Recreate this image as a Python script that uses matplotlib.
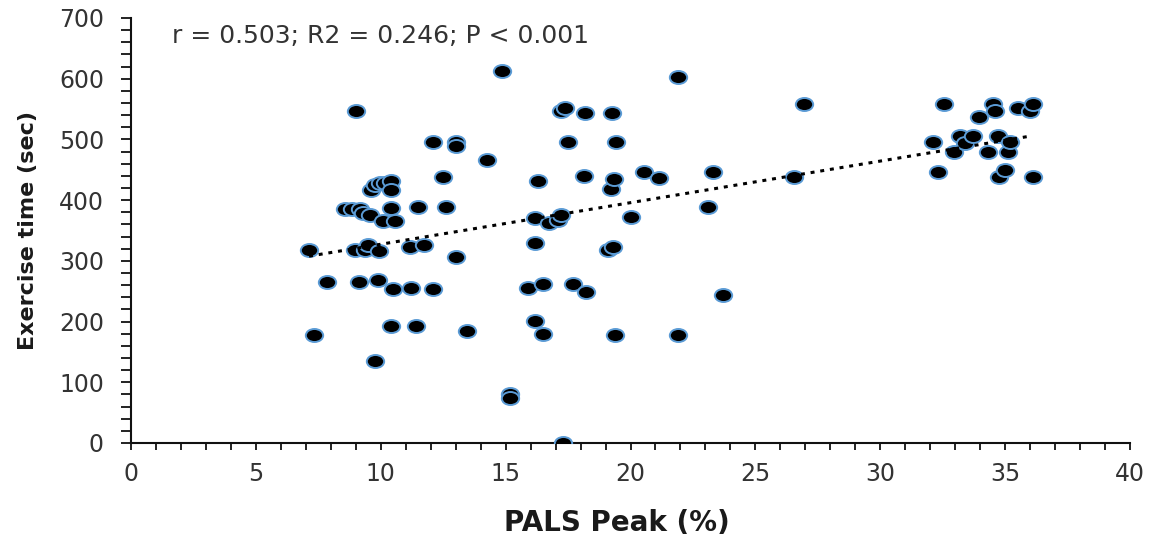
import matplotlib
matplotlib.use('Agg')
import matplotlib.pyplot as plt
from matplotlib.path import Path
from matplotlib.ticker import MultipleLocator
import numpy as np

# Dados (PALS Peak %, tempo de exercício em segundos)
pals_peak = [
    7.13, 7.33, 7.85, 8.56, 8.83, 8.96, 8.99, 9.13, 9.16, 9.29,
    9.36, 9.49, 9.56, 9.63, 9.76, 9.79, 9.90, 9.93, 9.96, 10.10,
    10.16, 10.40, 10.43, 10.43, 10.43, 10.50, 10.56, 11.16, 11.23, 11.40,
    11.50, 11.72, 12.10, 12.10, 12.50, 12.63, 13.00, 13.00, 13.03, 13.45,
    14.25, 14.85, 15.16, 15.16,
    15.90, 16.16, 16.16, 16.16, 16.30, 16.50, 16.50, 16.72, 17.10, 17.20,
    17.20, 17.36, 17.30, 17.50, 17.70, 18.12, 18.16, 18.20, 19.10, 19.30,
    19.23, 19.27, 19.33, 19.36, 19.43, 20.03, 20.56, 21.16, 21.90, 21.90,
    23.10, 23.30, 23.70, 26.56, 26.96,
    32.10, 32.30, 32.56, 32.96, 33.20, 33.40, 33.70, 33.96, 34.30, 34.50,
    34.60, 34.70, 34.76, 35.00, 35.10, 35.20, 35.50, 36.00, 36.10, 36.10,
]
exercise_time = [
    318, 178, 265, 385, 385, 318, 547, 265, 385, 378,
    318, 326, 376, 417, 425, 135, 268, 317, 428, 366,
    429, 193, 432, 416, 387, 253, 366, 322, 256, 193,
    388, 326, 253, 495, 438, 388, 496, 489, 307, 184,
    466, 612, 80, 74,
    255, 370, 330, 201, 432, 262, 180, 362, 367, 376,
    547, 551, 0, 495, 262, 440, 544, 248, 318, 322,
    418, 544, 434, 178, 495, 373, 447, 437, 602, 178,
    389, 447, 244, 438, 558,
    496, 447, 558, 480, 506, 494, 506, 537, 480, 559,
    547, 506, 438, 450, 480, 496, 551, 547, 559, 438,
]

texto_stats = 'r = 0.503; R2 = 0.246; P < 0.001'

# marcador elíptico (a imagem original está esticada na horizontal)
circulo = Path.unit_circle()
elipse = Path(circulo.vertices * np.array([1.0, 0.75]), circulo.codes)


def grafico_dispersao():
    x = np.array(pals_peak)
    y = np.array(exercise_time)

    fig = plt.figure(figsize=(11.57, 5.42), dpi=100)
    ax = fig.add_axes([0.1132, 0.1827, 0.8635, 0.7841])

    ax.plot(x, y, linestyle='none', marker=elipse, markersize=12.5,
            markerfacecolor='black', markeredgecolor='#5b9bd5',
            markeredgewidth=1.4, zorder=3)

    # linha de tendência linear (pontilhada)
    coef = np.polyfit(x, y, 1)
    xt = np.array([x.min(), x.max() - 0.2])
    ax.plot(xt, np.polyval(coef, xt), color='black', linewidth=2.2,
            linestyle=(0, (1.3, 1.9)), dash_capstyle='butt', zorder=4)

    ax.text(0.041, 0.957, texto_stats, transform=ax.transAxes,
            fontsize=18, color='#333333', va='center', ha='left')

    ax.set_xlim(0, 40)
    ax.set_ylim(0, 700)
    ax.xaxis.set_major_locator(MultipleLocator(5))
    ax.xaxis.set_minor_locator(MultipleLocator(1))
    ax.yaxis.set_major_locator(MultipleLocator(100))
    ax.yaxis.set_minor_locator(MultipleLocator(20))

    for lado in ['top', 'right']:
        ax.spines[lado].set_visible(False)
    for lado in ['left', 'bottom']:
        ax.spines[lado].set_linewidth(1.5)
        ax.spines[lado].set_color('#111111')

    ax.tick_params(axis='both', which='both', direction='out',
                   width=1.3, color='#111111', labelsize=17,
                   labelcolor='#333333')
    ax.tick_params(axis='y', which='both', length=7.5, pad=12)
    ax.tick_params(axis='x', which='both', length=5, pad=9)

    ax.set_xlabel('PALS Peak (%)', fontsize=20, fontweight='bold',
                  color='#1a1a1a')
    ax.set_ylabel('Exercise time (sec)', fontsize=16, fontweight='bold',
                  color='#1a1a1a')
    ax.xaxis.set_label_coords(0.4862, -0.156)
    ax.yaxis.set_label_coords(-0.093, 0.5)

    fig.savefig('out.png', dpi=100)


if __name__ == "__main__":
    grafico_dispersao()
